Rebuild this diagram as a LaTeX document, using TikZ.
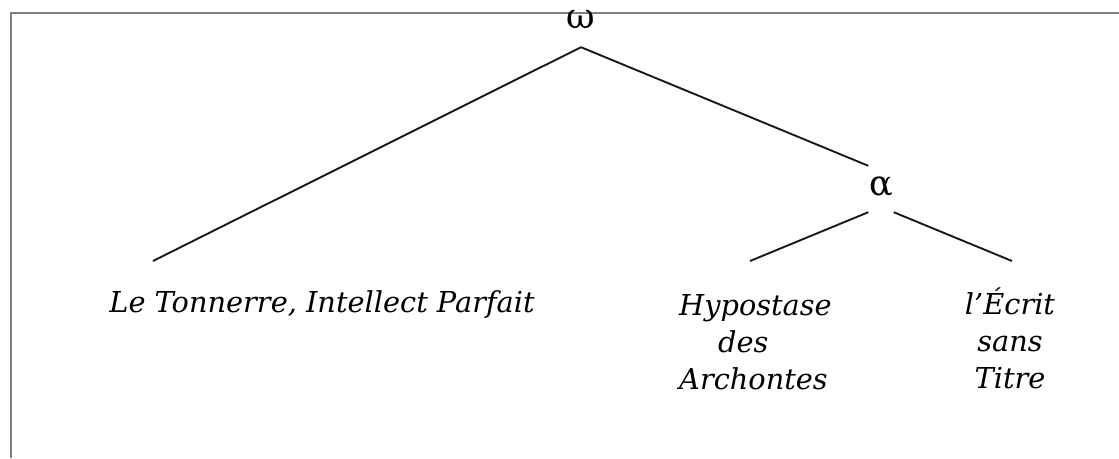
\documentclass[tikz,border=0pt]{standalone}
\usepackage{fontspec}
\setmainfont{DejaVu Serif}
\newfontfamily\labfont{DejaVu Serif}
\begin{document}
\begin{tikzpicture}[x=1pt,y=-1pt,
  frame/.style={draw=black!50,line width=1.6pt},
  branch/.style={draw=black!90,line width=1.9pt},
  greek/.style={font=\labfont\fontsize{35}{35}\selectfont,inner sep=0pt},
  leaf/.style={font=\labfont\itshape\fontsize{28.8}{37}\selectfont,inner sep=0pt}]
\useasboundingbox (0,0) rectangle (1119,458);
\draw[frame] (11,458) -- (11,13) -- (1119,13);
% root
\node[greek,anchor=base,text depth=19pt] (omega) at (581,28) {ω};
\node[greek,anchor=base,text height=29pt,text depth=17pt,minimum width=25pt] (alpha) at (881,195) {α};
% leaves
\node[leaf,anchor=base] (tonnerre) at (322,312) {Le Tonnerre, Intellect Parfait};
\node[leaf,anchor=north west,align=left] (hypo) at (679,294) {Hypostase\\\hspace*{39pt}des\\Archontes};
\node[leaf,anchor=north,align=center] (ecrit) at (1010,288) {l’Écrit\\sans\\Titre};
\coordinate (tE) at (153,261);
\coordinate (hE) at (750,261);
\coordinate (eE) at (1012,261);
\draw[branch] (omega.south) -- (tE);
\draw[branch] (omega.south) -- (alpha.north west);
\draw[branch] (alpha.south west) -- (hE);
\draw[branch] (alpha.south east) -- (eE);
\end{tikzpicture}
\end{document}
